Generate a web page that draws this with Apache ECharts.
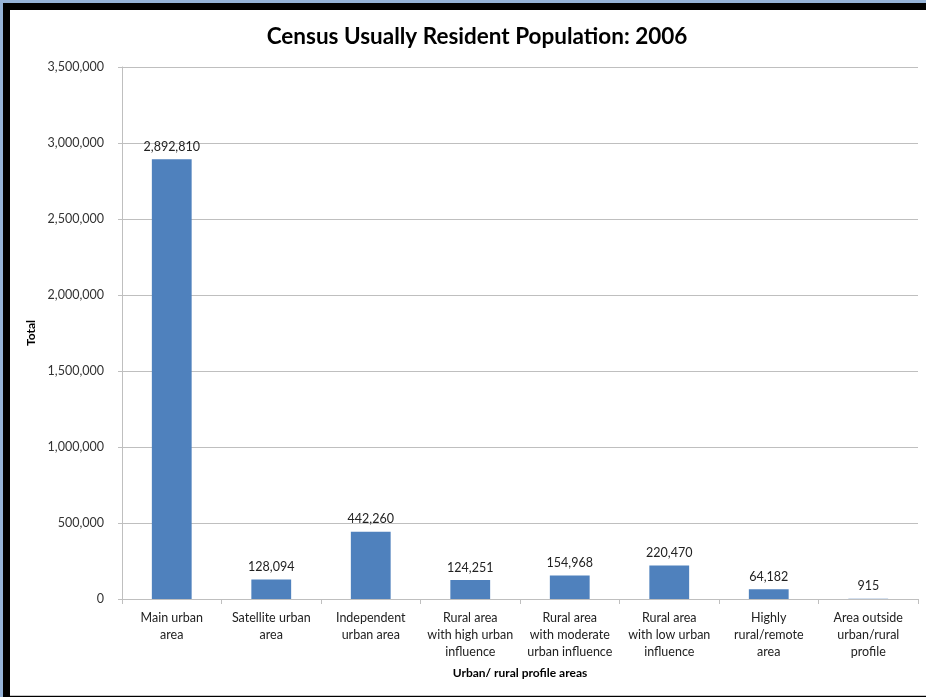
<!DOCTYPE html>
<html>
<head>
<meta charset="utf-8">
<script src="https://cdn.jsdelivr.net/npm/echarts@6/dist/echarts.min.js"></script>
<style>
html,body{margin:0;padding:0;width:926px;height:697px;overflow:hidden;background:#fff;}
#frameBlue{position:absolute;left:0;top:0;width:926px;height:697px;background:#95B3D7;}
#frameBlack{position:absolute;left:3px;top:3px;width:923px;height:694px;background:#000;}
#chart{position:absolute;left:10px;top:10px;width:916px;height:685px;background:#fff;border-bottom:1px solid #c8c8c8;}
</style>
</head>
<body>
<div id="frameBlue"></div>
<div id="frameBlack"></div>
<div id="chart"></div>
<script>
const categories = [
  "Main urban\narea",
  "Satellite urban\narea",
  "Independent\nurban area",
  "Rural area\nwith high urban\ninfluence",
  "Rural area\nwith moderate\nurban influence",
  "Rural area\nwith low urban\ninfluence",
  "Highly\nrural/remote\narea",
  "Area outside\nurban/rural\nprofile"
];
const populationValues = [2892810, 128094, 442260, 124251, 154968, 220470, 64182, 915];
const yTicks = { min: 0, max: 3500000, interval: 500000 };

const fmt = v => Number(v).toLocaleString('en-US');
const FONT = 'Lato, "Open Sans", sans-serif';

const chart = echarts.init(document.getElementById('chart'), null, {renderer: 'canvas'});
chart.setOption({
  animation: false,
  backgroundColor: '#fff',
  title: {
    text: 'Census Usually Resident Population: 2006',
    left: 462, top: 10, textAlign: 'center',
    textStyle: {fontFamily: FONT, fontSize: 22.5, fontWeight: 'bold', color: '#000'}
  },
  grid: {left: 112, right: 8, top: 57, bottom: 96, containLabel: false},
  xAxis: {
    type: 'category',
    data: categories,
    name: 'Urban/ rural profile areas',
    nameLocation: 'middle',
    nameGap: 68,
    nameTextStyle: {fontFamily: FONT, fontSize: 12, fontWeight: 'bold', color: '#000'},
    axisLine: {lineStyle: {color: '#bfbfbf', width: 1}},
    axisTick: {show: true, alignWithLabel: false, length: 5, lineStyle: {color: '#bfbfbf'}},
    axisLabel: {fontFamily: FONT, fontSize: 12.5, color: '#222', lineHeight: 17, margin: 10, interval: 0}
  },
  yAxis: {
    type: 'value',
    min: yTicks.min, max: yTicks.max, interval: yTicks.interval,
    name: 'Total',
    nameLocation: 'middle',
    nameGap: 80,
    nameRotate: 90,
    nameTextStyle: {fontFamily: FONT, fontSize: 12, fontWeight: 'bold', color: '#000'},
    axisLine: {show: true, lineStyle: {color: '#bfbfbf', width: 1}},
    axisTick: {show: true, length: 4, lineStyle: {color: '#bfbfbf'}},
    axisLabel: {fontFamily: FONT, fontSize: 12.5, color: '#333', margin: 18, formatter: fmt},
    splitLine: {show: true, lineStyle: {color: '#bfbfbf', width: 1}}
  },
  series: [{
    type: 'bar',
    data: populationValues,
    barWidth: '40%',
    itemStyle: {color: '#4F81BD'},
    label: {
      show: true, position: 'top', distance: 6,
      fontFamily: FONT, fontSize: 12.5, color: '#222',
      formatter: p => fmt(p.value)
    }
  }]
});
</script>
</body>
</html>
